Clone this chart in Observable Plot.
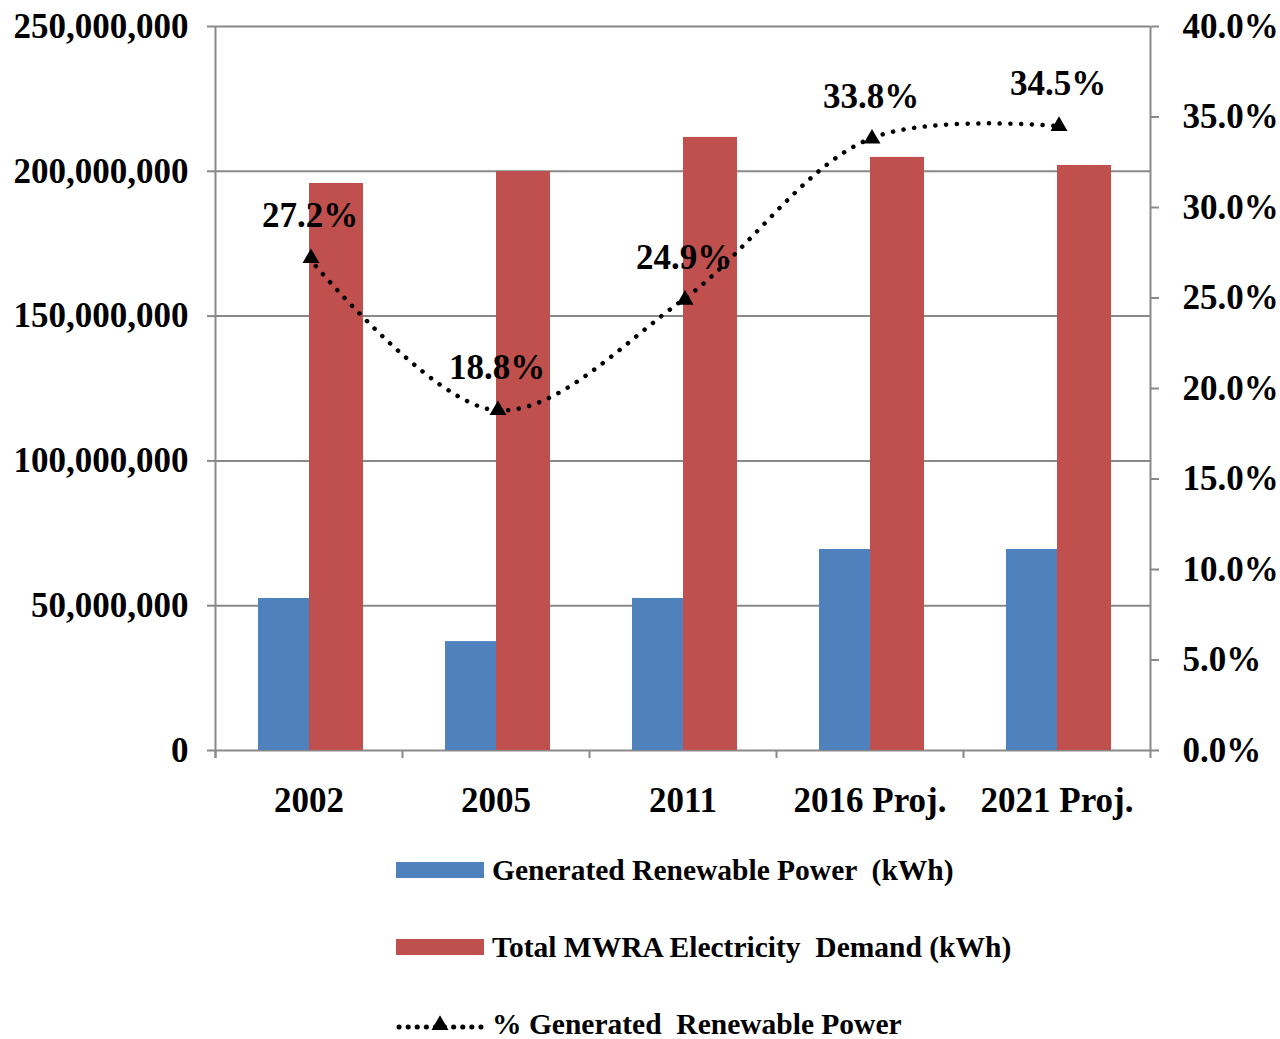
<!DOCTYPE html>
<html><head><meta charset="utf-8">
<script src="https://cdn.jsdelivr.net/npm/d3@7"></script>
<script src="https://cdn.jsdelivr.net/npm/@observablehq/plot@0.6"></script>
<style>
body{margin:0;background:#fff;font-family:"Liberation Serif","Times New Roman",serif;font-weight:bold;color:#000;}
#legend{padding-top:27px;}
.row{display:flex;align-items:center;height:26px;margin-bottom:51px;margin-left:396px;font-size:29.5px;line-height:26px;white-space:pre;}
.row:last-child{margin-bottom:0;}
.sw{width:88px;height:16px;margin-right:8px;flex:none;}
.row svg{margin-right:8px;flex:none;}
</style></head><body>
<div id="chart"></div>
<div id="legend"></div>
<script>
const categories = ["2002", "2005", "2011", "2016 Proj.", "2021 Proj."];
const generatedKWh = [52.5e6, 37.6e6, 52.5e6, 69.4e6, 69.4e6];
const demandKWh = [195.8e6, 199.9e6, 211.7e6, 204.8e6, 202.0e6];
const percentGenerated = [27.2, 18.8, 24.9, 33.8, 34.5];
const leftTicks = [0, 50e6, 100e6, 150e6, 200e6, 250e6];
const rightTicks = [0, 5, 10, 15, 20, 25, 30, 35, 40];
const seriesNames = ["Generated Renewable Power  (kWh)", "Total MWRA Electricity  Demand (kWh)", "% Generated  Renewable Power"];
const colors = ["#4F81BD", "#C0504D"];

const Y_MAX = 250e6, P_MAX = 40;
const pToY = p => p / P_MAX * Y_MAX;
const rows = categories.map((c, i) => ({cat: c, gen: generatedKWh[i], dem: demandKWh[i], pct: percentGenerated[i]}));

const W = 1280, H = 830, mL = 215, mR = 130, mT = 26, mB = 80;
const bw = (W - mL - mR) / categories.length;
const gray = "#898989";
const font = '"Liberation Serif","Times New Roman",serif';

const chart = Plot.plot({
  width: W, height: H,
  marginLeft: mL, marginRight: mR, marginTop: mT, marginBottom: mB,
  style: {fontFamily: font, fontWeight: "bold", fontSize: "35px", color: "#000", background: "#fff"},
  x: {type: "band", domain: categories, padding: 0, axis: null},
  y: {domain: [0, Y_MAX], axis: null},
  marks: [
    Plot.ruleY(leftTicks, {stroke: gray, strokeWidth: 2}),
    Plot.barY(rows, {x: "cat", y: "gen", fill: colors[0], insetLeft: 43, insetRight: 93}),
    Plot.barY(rows, {x: "cat", y: "dem", fill: colors[1], insetLeft: 94, insetRight: 39}),
    // axis lines at the band edges
    Plot.ruleX([categories[0]], {x: d => d, dx: -bw / 2, stroke: gray, strokeWidth: 2, insetBottom: -8}),
    Plot.ruleX([categories[categories.length - 1]], {x: d => d, dx: bw / 2, stroke: gray, strokeWidth: 2, insetBottom: -8}),
    // x tick marks at band boundaries
    Plot.ruleX(categories, {x: d => d, dx: -bw / 2, y1: 0, y2: 0, insetBottom: -8, stroke: gray, strokeWidth: 2}),
    // left axis
    Plot.axisY({anchor: "left", ticks: leftTicks, tickSize: 8, stroke: gray, strokeWidth: 2, tickFormat: () => "", label: null}),
    Plot.axisY({anchor: "left", ticks: leftTicks, tickSize: 0, tickPadding: 27, tickFormat: d3.format(","), fill: "#000", label: null}),
    // right axis (percent)
    Plot.axisY({anchor: "right", ticks: rightTicks.map(pToY), tickSize: 8, stroke: gray, strokeWidth: 2, tickFormat: () => "", label: null}),
    Plot.axisY({anchor: "right", ticks: rightTicks.map(pToY), tickSize: 0, tickPadding: 32, tickFormat: d => (d / Y_MAX * P_MAX).toFixed(1) + "%", fill: "#000", label: null}),
    // x labels
    Plot.axisX({tickSize: 0, tickPadding: 37, fill: "#000", label: null}),
    // percent line
    Plot.line(rows, {x: "cat", y: d => pToY(d.pct), curve: "catmull-rom", stroke: "#000", strokeWidth: 4.5, strokeDasharray: "0.1 10.6", strokeLinecap: "round"}),
    Plot.dot(rows, {x: "cat", y: d => pToY(d.pct), symbol: "triangle", r: 6.3, fill: "#000", dx: 2}),
    Plot.text(rows, {x: "cat", y: d => pToY(d.pct), text: d => d.pct.toFixed(1) + "%", dy: -42, dx: 1, fontSize: 35, fontWeight: "bold", fill: "#000"})
  ]
});
document.getElementById("chart").appendChild(chart);

// legend
const legend = document.getElementById("legend");
seriesNames.forEach((name, i) => {
  const row = document.createElement("div");
  row.className = "row";
  if (i < 2) {
    const sw = document.createElement("div");
    sw.className = "sw";
    sw.style.background = colors[i];
    row.appendChild(sw);
  } else {
    const svg = d3.create("svg").attr("width", 88).attr("height", 22);
    svg.append("line").attr("x1", 3).attr("x2", 86).attr("y1", 14).attr("y2", 14)
      .attr("stroke", "#000").attr("stroke-width", 5).attr("stroke-dasharray", "0.1 9").attr("stroke-linecap", "round");
    svg.append("path").attr("d", d3.symbol(d3.symbolTriangle, 125)()).attr("transform", "translate(44,12)").attr("fill", "#000");
    row.appendChild(svg.node());
  }
  const t = document.createElement("span");
  t.textContent = name;
  row.appendChild(t);
  legend.appendChild(row);
});
</script>
</body></html>
